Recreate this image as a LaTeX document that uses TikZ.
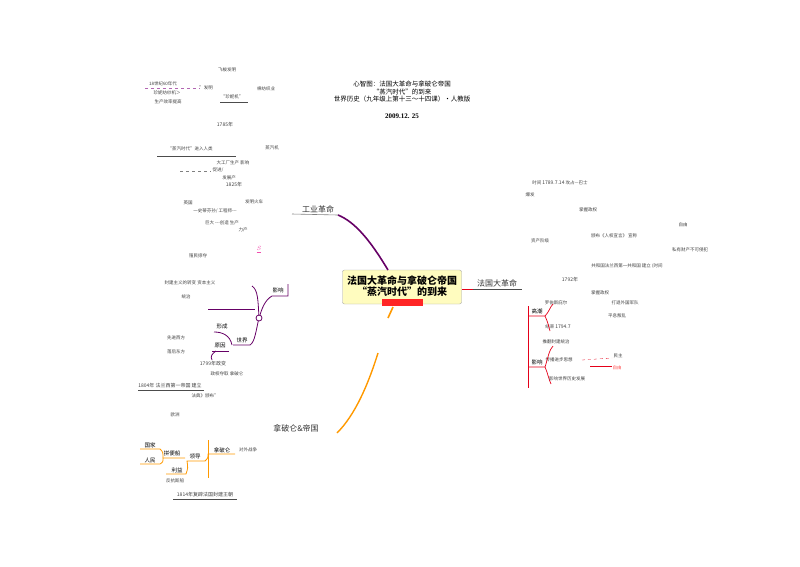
\documentclass[tikz,border=0pt]{standalone}
\usepackage{fontspec}
\setmainfont{Liberation Serif}
\newfontfamily\cjk{Noto Sans CJK SC}
\usetikzlibrary{positioning}
\begin{document}
\begin{tikzpicture}[x=1pt,y=-1pt,
		every node/.style={font=\cjk\fontsize{4.5}{5.5}\selectfont, inner sep=0.5pt, text=black!75},
		topic/.style={font=\cjk\fontsize{8}{9}\selectfont, text=black!80},
		tag/.style={font=\cjk\fontsize{5.5}{6}\selectfont, text=black, inner sep=1pt},
		ul/.style={draw=none},
		violet/.style={draw=violet!80!black, line width=0.8pt},
		amber/.style={draw=orange!80!yellow, line width=0.8pt},
		redline/.style={draw=red!60!purple, line width=0.7pt}
		]
	\useasboundingbox (0,0) rectangle (800,566);

	% title
	\node[font=\cjk\fontsize{6.5}{7.5}\selectfont, align=center, text=black] (title) at (402,92)
		{心智图：法国大革命与拿破仑帝国\\“蒸汽时代”的到来\\世界历史（九年级上第十三～十四课）•人教版};
	\node[font=\bfseries\fontsize{7}{8}\selectfont, text=black] (date) at (402,116) {2009.12. 25};

	% centre
	\node[draw=gray!70, fill=yellow!25, rounded corners=2pt, minimum width=119pt, minimum height=34pt] (centre) at (402,287) {};
	\fill[red!85] (382,299) rectangle (423,306);
	\node[font=\cjk\bfseries\fontsize{10}{11}\selectfont, align=center, text=black] (ctext) at (402,286)
		{法国大革命与拿破仑帝国\\“蒸汽时代”的到来};

	% main branches
	\node[topic] (ir) at (318,209) {工业革命};
	\node[topic] (fr) at (497,283) {法国大革命};
	\node[topic] (np) at (296,428) {拿破仑\&帝国};
	\draw[violet, line width=1.6pt] (388,270) .. controls (370,240) and (355,222) .. (338,215);
	\draw[draw=gray, line width=0.6pt] (292,214) -- (338,215);
	\draw[draw=black!70] (473,289) -- (522,289);
	\draw[redline] (462,289) -- (473,289);
	\draw[amber, line width=1.6pt] (393,307) -- (388,318);
	\draw[amber, line width=1.4pt] (378,353) .. controls (368,385) and (355,415) .. (337,433);

	% industrial revolution texts
	\node[ul] (n1) at (227,70) {飞梭发明};
	\node (n2) at (163,84) {18世纪60年代};
	\node (n3) at (206,88) {”发明};
	\node (n4) at (167,93) {珍妮纺纱机＞};
	\node (n5) at (168,102) {生产效率提高};
	\node (n6) at (266,89) {棉纺织业};
	\node (n7) at (232,97) {“珍妮机”};
	\draw[draw=violet!60, dashed, line width=0.3pt] (145,88) -- (200,88);
	\draw[line width=0.9pt, draw=black!70] (220,102) -- (248,102);
	\node (n8) at (225,125) {\fontsize{5}{6}\selectfont 1785年};
	\node (n9) at (190,149) {“蒸汽时代”进入人类};
	\draw[line width=0.9pt, draw=black!70] (157,156) -- (236,156);
	\node (n10) at (272,148) {蒸汽机};
	\node (n11) at (233,163) {大工厂生产 影响};
	\node (n12) at (218,170) {促进/};
	\draw[dashed, line width=0.3pt, draw=gray] (180,171) -- (211,171);
	\node (n13) at (229,178) {发展产};
	\node (n14) at (234,185) {\fontsize{5}{6}\selectfont 1825年};
	\node (n15) at (188,203) {英国};
	\node (n16) at (254,202) {发明火车};
	\node (n17) at (215,211) {一史蒂芬孙/ 工程师---};
	\node (n18) at (222,223) {巨大 ---创造 生产};
	\node (n19) at (243,230) {力产};

	% left lower (purple)
	\node[text=magenta!70, font=\fontsize{8}{9}\selectfont] (s5) at (259,252) {$\frac{S}{\rule{0pt}{3pt}}$};
	\node (n20) at (198,256) {殖民掠夺};
	\node (n21) at (190,283) {封建主义的转变 资本主义};
	\node (n22) at (186,297) {统治};
	\node[tag] (yx) at (278,290) {影响};
	\node[tag] (sj) at (242,340) {世界};
	\node[tag] (xc) at (222,326) {形成};
	\node[tag] (yy) at (220,346) {原因};
	\draw[violet] (288,284) -- (288,296) -- (272,296) .. controls (265,300) and (262,308) .. (259,318);
	\draw[violet] (252,286) .. controls (258,290) and (258,300) .. (259,318);
	\draw[violet] (208,309) -- (255,309);
	\draw[violet] (259,318) .. controls (256,330) and (255,342) .. (250,345) -- (233,345);
	\draw[violet] (232,345) .. controls (230,335) and (222,332) .. (214,332);
	\draw[violet] (229,351) -- (212,351);
	\draw[violet] (216,351) .. controls (212,354) and (210,356) .. (212,360);
	\draw[violet, fill=white] (259,318) circle (3);
	\node (n23) at (176,338) {先进西方};
	\node (n24) at (176,352) {落后东方};
	\node (n25) at (213,364) {\fontsize{5}{6}\selectfont 1799\cjk 年政变};
	\node (n26) at (227,374) {政权夺取 拿破仑};
	\node (n27) at (170,386) {\fontsize{5}{6}\selectfont 1804\cjk 年 法兰西第一帝国 建立};
	\draw[draw=black!70, line width=0.4pt] (138,390) -- (204,390);
	\node (n28) at (205,396) {法典》颁布”};
	\node (n29) at (175,415) {欧洲};

	% left lower (amber)
	\node[tag] (gj) at (150,445) {国家};
	\node[tag] (rm) at (150,460) {人民};
	\node[tag] (bs) at (172,453) {拼便船};
	\node[tag] (ly) at (177,470) {利益};
	\node[tag] (ld) at (195,456) {领导};
	\node[tag] (nplon) at (222,450) {拿破仑};
	\node (n30) at (248,450) {对外战争};
	\node (n31) at (175,481) {反抗斯船};
	\node (n32) at (205,495) {\fontsize{5}{6}\selectfont 1814\cjk 年复辟法国封建王朝};
	\draw[draw=black!70, line width=0.4pt] (173,499) -- (237,499);
	\draw[amber] (140,449) -- (160,449) .. controls (163,452) .. (163,458);
	\draw[amber] (140,464) -- (160,464) .. controls (163,462) .. (163,458) -- (185,458);
	\draw[amber] (166,474) -- (186,474) .. controls (188,468) .. (187,461) -- (205,461);
	\draw[amber] (205,461) .. controls (208,458) .. (208,454) -- (235,454);
	\draw[amber] (208,440) -- (208,478);

	% right (French revolution)
	\node (r1) at (560,183) {时间 \fontsize{5}{6}\selectfont 1789.7.14 \cjk\fontsize{4.5}{5.5}\selectfont 攻占—巴士};
	\node (r2) at (530,195) {爆发};
	\node (r3) at (588,210) {掌握政权};
	\node (r4) at (683,225) {自由};
	\node (r5) at (614,236) {颁布《人权宣言》 宣称};
	\node (r6) at (540,241) {资产阶级};
	\node (r7) at (690,250) {私有财产不可侵犯};
	\node (r8) at (627,266) {共和国法兰西第一共和国 建立 (时间};
	\node (r9) at (570,280) {\fontsize{5}{6}\selectfont 1792\cjk 年};
	\node (r10) at (600,293) {掌握政权};
	\node[tag] (gc) at (537,311) {高潮};
	\node[tag] (yx2) at (537,362) {影响};
	\node (r11) at (556,303) {罗伯斯庇尔};
	\node (r12) at (625,303) {打退外国军队};
	\node (r13) at (617,316) {平息叛乱};
	\node (r14) at (558,327) {结束 \fontsize{5}{6}\selectfont 1794.7};
	\node (r15) at (556,342) {推翻封建统治};
	\node (r16) at (559,360) {传播进步思想};
	\node (r17) at (618,356) {民主};
	\node[text=red!70] (r18) at (617,368) {自由};
	\draw[redline] (528,306) -- (528,388);
	\draw[redline] (528,316) -- (545,316) .. controls (549,312) and (550,307) .. (553,304);
	\draw[redline] (545,316) .. controls (548,322) and (549,328) .. (550,331);
	\draw[redline] (528,367) -- (545,367) .. controls (548,358) and (549,350) .. (553,346);
	\draw[redline] (545,367) .. controls (548,374) and (549,380) .. (551,384);
	\draw[redline, dashed, line width=0.3pt] (582,360) -- (612,358);
	\draw[redline, line width=0.3pt] (590,366) -- (612,366);
	\node (r19) at (567,379) {影响世界历史发展};
\end{tikzpicture}
\end{document}
